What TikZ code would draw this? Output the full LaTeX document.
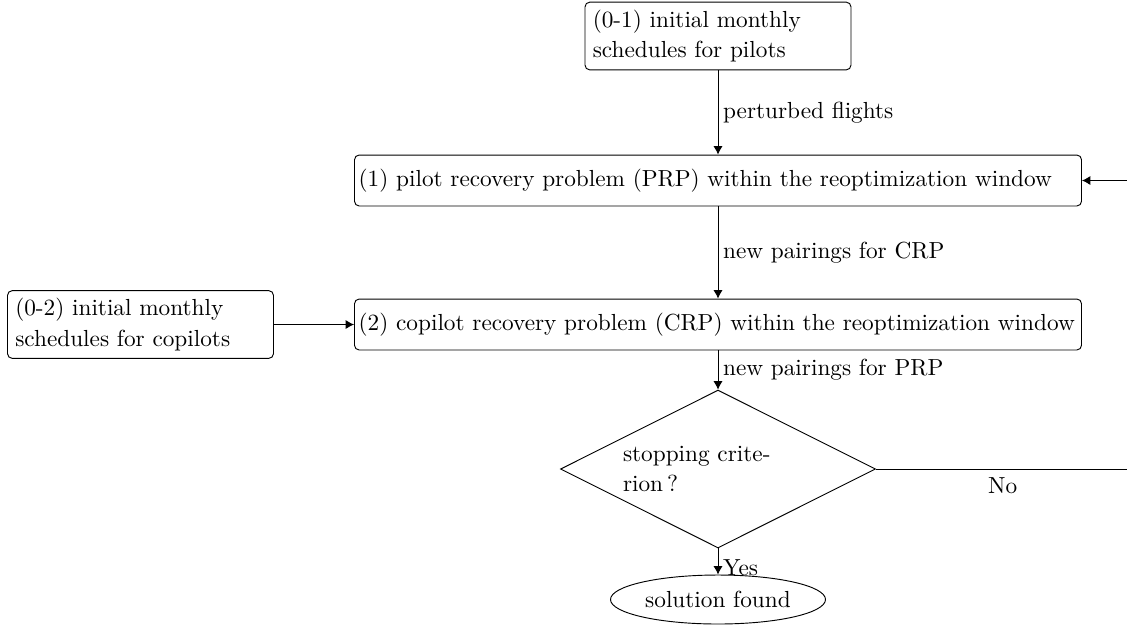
\documentclass[tikz,border=0pt]{standalone}
\usetikzlibrary{shapes.geometric,arrows.meta}
\begin{document}
\begin{tikzpicture}[x=0.43pt,y=-0.43pt,
  font=\fontsize{10pt}{13pt}\selectfont,
  box/.style={draw, rounded corners=2pt, align=left, inner sep=3.33pt},
  smallbox/.style={box, text width=107.7pt},
  widebox/.style={box, inner xsep=1.8pt, text width=309pt, minimum height=21.9pt},
  decision/.style={draw, diamond, aspect=2, inner sep=0pt,
    minimum width=135.45pt, minimum height=67.9pt, text width=81.7pt, align=left},
  terminal/.style={draw, ellipse, inner sep=0pt, minimum width=92.45pt, minimum height=21.07pt},
  flow/.style={-{Latex[length=3.6pt,width=3.9pt]}},
  lbl/.style={right, inner sep=2pt}]
\clip (0,0) rectangle (1127,641);

% nodes
\node[smallbox] (init1) at (718,36) {(0-1) initial monthly schedules for pilots};
\node[widebox] (pilot) at (718,180.5) {(1) pilot recovery problem (PRP) within the reoptimization window};
\node[widebox] (copilot) at (718,324.5) {(2) copilot recovery problem (CRP) within the reoptimization window};
\node[smallbox] (init2) at (140.5,324.5) {(0-2) initial monthly schedules for copilots};
\node[decision] (stop) at (718,469) {stopping crite-\\rion\,?};
\node[terminal] (sol) at (718,599.5) {solution found};
\coordinate (loop) at (1140,469);

% connectors
\draw[flow] (init1) -- node[lbl] {perturbed flights} (pilot);
\draw[flow] (pilot) -- node[lbl] {new pairings for CRP} (copilot);
\draw[flow] (init2) -- (copilot);
\draw[flow] (copilot) -- node[lbl] {new pairings for PRP} (stop);
\draw[flow] (stop) -- node[lbl, pos=0.75] {Yes} (sol);
\draw (stop.east) -- node[below, pos=0.48] {No} (loop);
\draw[flow] (loop) |- (pilot.east);
\end{tikzpicture}
\end{document}
